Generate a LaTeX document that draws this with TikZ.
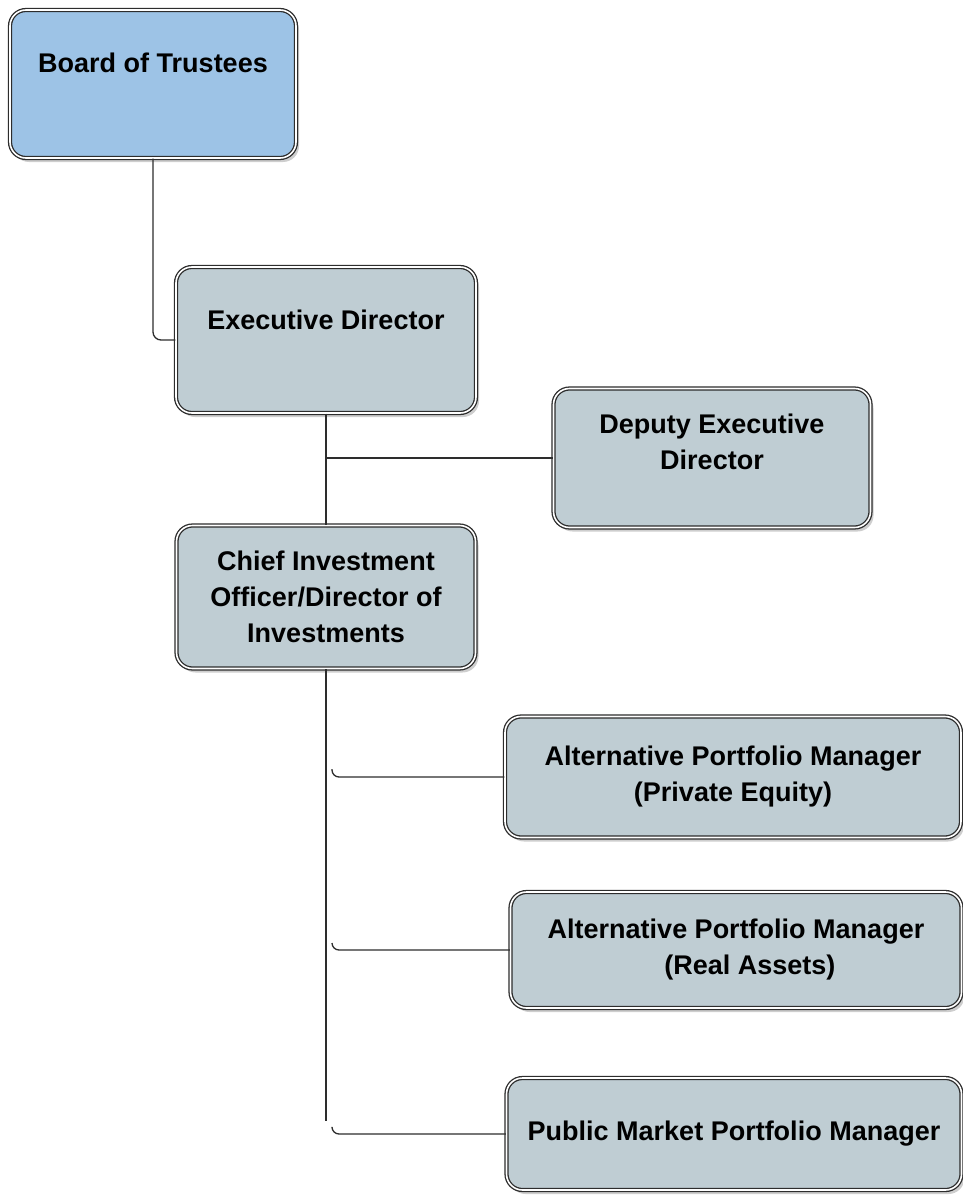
\documentclass[tikz,border=0pt]{standalone}
\usepackage{fontspec}
\setmainfont{Liberation Sans}
\usetikzlibrary{shadows}
\definecolor{boardblue}{RGB}{157,195,230}
\definecolor{staffgray}{RGB}{191,205,211}
\definecolor{rimgray}{RGB}{45,45,45}
\newcommand{\lift}[2]{\raisebox{#1}[\height][\depth]{#2}}
\begin{document}
\begin{tikzpicture}[x=1pt,y=-1pt,
       unit/.style={draw=rimgray,double=white,double distance=1.6pt,line width=1.3pt,rounded corners=16pt,fill=staffgray,align=center,inner sep=0pt,font=\fontsize{27}{36}\selectfont\bfseries,drop shadow={shadow xshift=3pt,shadow yshift=-4pt,fill=gray!55,opacity=.7}},
       wire/.style={draw=rimgray,line width=1.3pt}]

       \useasboundingbox (0,0) rectangle (963,1196);

       \node[unit,fill=boardblue,minimum width=286pt,minimum height=148pt] (board) at (153,84) {\lift{21pt}{Board of Trustees}};
       \node[unit,minimum width=300pt,minimum height=146pt] (exec) at (326,340) {\lift{20pt}{Executive Director}};
       \node[unit,minimum width=317pt,minimum height=139pt] (deputy) at (712,458) {\lift{16pt}{Deputy Executive}\\\lift{16pt}{Director}};
       \node[unit,minimum width=299pt,minimum height=143pt] (cio) at (326,597) {Chief Investment\\Officer/Director of\\Investments};
       \node[unit,minimum width=456pt,minimum height=121pt] (privateeq) at (733,777) {Alternative Portfolio Manager\\(Private Equity)};
       \node[unit,minimum width=451pt,minimum height=116pt] (realassets) at (736,950) {Alternative Portfolio Manager\\\hspace*{28pt}(Real Assets)};
       \node[unit,minimum width=455pt,minimum height=112pt] (publicmkt) at (734,1134) {Public Market Portfolio Manager};

       \coordinate (trunkend) at (326,1121);
       \coordinate (hookpe) at (332,769);
       \coordinate (hookra) at (332,943);
       \coordinate (hookpm) at (332,1128);

       \draw[wire,rounded corners=8pt] (board.south) |- (exec.west);
       \draw[wire] (exec.south) -- (cio.north);
       \draw[wire] (exec.south |- deputy.west) -- (deputy.west);
       \draw[wire] (trunkend |- cio.south) -- (trunkend);
       \foreach \hook/\dest in {hookpe/privateeq,hookra/realassets,hookpm/publicmkt}
         \draw[wire,rounded corners=7pt] (\hook) |- (\dest.west);
     \end{tikzpicture}
\end{document}
